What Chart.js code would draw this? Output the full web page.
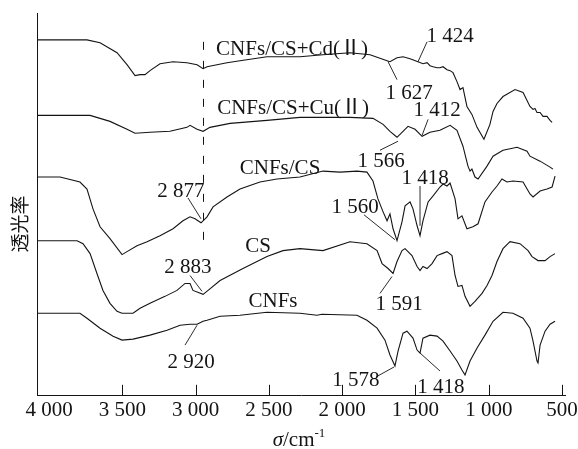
<!DOCTYPE html>
<html>
<head>
<meta charset="utf-8">
<script src="https://cdn.jsdelivr.net/npm/chart.js@4.4.1/dist/chart.umd.min.js"></script>
<style>
  html, body { margin: 0; padding: 0; background: #fff; }
</style>
</head>
<body>
<canvas id="c" width="578" height="449"></canvas>
<script>
// FTIR spectra, stacked. x = wavenumber (cm-1), y = transmittance (arbitrary, offset per curve)

const tickWave = [4000, 3500, 3000, 2500, 2000, 1500, 1000, 500];

// CNFs/CS+Cd(II)
const cdWave = [4082,3741,3652,3536,3468,3413,3379,3345,3311,3243,3154,3059,2990,2949,2922,2786,2697,2513,2288,2131,1947,1810,1694,1674,1626,1585,1537,1483,1449,1421,1401,1380,1353,1333,1312,1285,1264,1244,1217,1196,1176,1149,1115,1080,1033,992,971,944,903,821,766,719,698,685,671,650,630,603,582,568];
const cdT = [358,358,355,345,333,322,323,323,327,334,336,335,333,329,331,335,337,341,341,343,345,343,337,336,340,341,339,336,334,335,332,331,330,330,331,328,327,325,316,308,310,291,283,270,258,273,286,294,301,308,305,291,288,289,285,285,281,281,277,275];

// CNFs/CS+Cu(II)
const cuWave = [4082,3720,3584,3468,3413,3311,3175,3059,3038,2990,2949,2902,2765,2513,2288,2131,1947,1790,1721,1674,1626,1585,1551,1503,1455,1401,1333,1264,1217,1176,1142,1128,1115,1094,1073,1012,971,903,807,739,719,650,582,562];
const cuT = [282,282,276,268,264,265,266,270,272,268,266,270,274,277,280,280,280,279,273,266,260,266,271,268,261,265,267,272,267,251,231,226,228,220,218,231,241,247,250,246,241,236,230,228];

// CNFs/CS
const mixWave = [4082,3925,3789,3741,3700,3652,3584,3502,3468,3400,3331,3243,3154,3086,3038,3004,2963,2922,2881,2786,2697,2561,2445,2288,2131,2015,1899,1831,1790,1756,1721,1694,1674,1653,1626,1592,1571,1537,1517,1489,1469,1449,1414,1380,1333,1312,1285,1264,1230,1210,1183,1149,1108,1073,1026,978,944,910,876,835,766,719,698,650,603,568,548];
const mixT = [220,220,215,208,188,170,158,142,145,151,155,161,168,176,180,178,174,180,190,200,208,215,218,220,226,225,226,225,216,198,185,176,183,168,156,175,191,195,188,171,161,176,195,201,210,213,211,214,198,178,181,168,170,173,195,205,211,218,215,216,215,203,200,206,208,210,221];

// CS
const csWave = [4082,3809,3768,3720,3673,3632,3584,3536,3502,3427,3379,3311,3209,3127,3072,3038,3018,2949,2915,2833,2677,2513,2404,2288,2131,1947,1831,1762,1728,1687,1653,1626,1592,1571,1524,1489,1469,1449,1421,1387,1353,1319,1285,1251,1230,1210,1183,1162,1128,1094,1046,1012,978,944,903,855,787,732,705,664,616,582,548];
const csT = [156,156,153,143,123,106,93,85,83,83,88,93,100,106,113,113,106,102,106,116,128,140,146,148,146,155,153,146,133,128,123,135,146,148,141,130,126,130,128,133,141,143,145,141,121,110,111,100,90,95,103,111,121,135,148,155,153,146,140,136,136,140,143];

// CNFs
const cnfWave = [4082,3789,3741,3652,3563,3502,3427,3311,3195,3106,3038,2990,2949,2922,2833,2697,2513,2288,2172,2138,1899,1831,1762,1708,1674,1640,1619,1585,1558,1517,1489,1469,1449,1401,1353,1312,1264,1217,1183,1162,1128,1080,1026,971,903,835,766,719,698,671,664,650,616,582,548];
const cnfT = [83,83,78,68,60,56,57,61,66,71,72,72,75,76,80,81,84,83,81,82,81,76,68,56,41,30,45,63,65,58,46,43,58,61,60,55,45,35,26,21,35,48,61,75,84,83,78,68,55,35,33,51,65,72,75];

// text labels: [text, wavenumber, y]  (centre / baseline)
const labels = [
  ['CNFs/CS+Cd(Ⅱ)', 2342, 343],
  ['1 424', 1264, 356],
  ['1 627', 1544, 299],
  ['CNFs/CS+Cu(Ⅱ)', 2335, 283],
  ['1 412', 1353, 281],
  ['1 566', 1735, 230],
  ['CNFs/CS', 2424, 223],
  ['1 418', 1435, 213],
  ['1 560', 1912, 184],
  ['2 877', 3100, 200],
  ['2 883', 3052, 124],
  ['CS', 2574, 145],
  ['CNFs', 2472, 89],
  ['2 920', 3031, 28],
  ['1 591', 1612, 86],
  ['1 578', 1906, 10],
  ['1 418', 1326, 3]
];

// leader lines: [w1, y1, w2, y2]
const leaders = [
  [1421, 356, 1483, 336],
  [1687, 336, 1626, 318],
  [1414, 278, 1455, 262],
  [1742, 247, 1619, 256],
  [1469, 211, 1469, 171],
  [1851, 182, 1640, 157],
  [3052, 199, 2963, 178],
  [3038, 121, 2956, 105],
  [3072, 51, 2990, 71],
  [1742, 103, 1660, 120],
  [1769, 19, 1646, 29],
  [1333, 25, 1469, 43]
];

const dashWave = 2949;
const dashRange = [156, 356];

const serif = '"Liberation Serif", "Noto Sans CJK SC", serif';
const ink = '#141414';

const series = [
  [cdWave, cdT], [cuWave, cuT], [mixWave, mixT], [csWave, csT], [cnfWave, cnfT]
];

function fmtWave(v) {
  if (v < 1000) return String(v);
  return Math.floor(v / 1000) + ' ' + String(v % 1000).padStart(3, '0');
}

const inkPlugin = {
  id: 'ink',
  afterDraw(chart) {
    const { ctx, chartArea: a, scales: { x, y } } = chart;
    ctx.save();
    ctx.strokeStyle = ink;
    ctx.fillStyle = ink;
    ctx.lineWidth = 1;

    // tick marks point into the plot
    tickWave.forEach(v => {
      if (v === 4000) return;
      const px = Math.round(x.getPixelForValue(v)) + 0.5;
      ctx.beginPath();
      ctx.moveTo(px, a.bottom);
      ctx.lineTo(px, a.bottom - 11);
      ctx.stroke();
    });

    // dashed guide through the C-H band
    const dx = Math.round(x.getPixelForValue(dashWave)) + 0.5;
    ctx.setLineDash([8, 11]);
    ctx.beginPath();
    ctx.moveTo(dx, y.getPixelForValue(dashRange[1]));
    ctx.lineTo(dx, y.getPixelForValue(dashRange[0]));
    ctx.stroke();
    ctx.setLineDash([]);

    // leaders
    ctx.lineWidth = 0.9;
    leaders.forEach(([w1, t1, w2, t2]) => {
      ctx.beginPath();
      ctx.moveTo(x.getPixelForValue(w1), y.getPixelForValue(t1));
      ctx.lineTo(x.getPixelForValue(w2), y.getPixelForValue(t2));
      ctx.stroke();
    });

    // labels
    ctx.font = '21px ' + serif;
    ctx.textAlign = 'center';
    ctx.textBaseline = 'alphabetic';
    labels.forEach(([txt, w, t]) => {
      ctx.fillText(txt, x.getPixelForValue(w), y.getPixelForValue(t));
    });

    // y title
    ctx.save();
    ctx.translate(a.left - 17, 224);
    ctx.rotate(-Math.PI / 2);
    ctx.font = '19px "Noto Sans CJK SC"';
    ctx.textBaseline = 'middle';
    ctx.fillText('透光率', 0, 0);
    ctx.restore();

    // x title: σ/cm-1
    const base = 446;
    ctx.textAlign = 'left';
    ctx.font = 'italic 21px ' + serif;
    const w1 = ctx.measureText('σ').width;
    ctx.font = '21px ' + serif;
    const w2 = ctx.measureText('/cm').width;
    ctx.font = '13px ' + serif;
    const w3 = ctx.measureText('-1').width;
    let cx = (a.left + a.right) / 2 - (w1 + w2 + w3) / 2 - 2;
    ctx.font = 'italic 21px ' + serif;
    ctx.fillText('σ', cx, base);
    cx += w1;
    ctx.font = '21px ' + serif;
    ctx.fillText('/cm', cx, base);
    cx += w2;
    ctx.font = '13px ' + serif;
    ctx.fillText('-1', cx, base - 9);
    ctx.restore();
  }
};

new Chart(document.getElementById('c'), {
  type: 'line',
  data: {
    datasets: series.map(([ws, ts]) => ({
      data: ws.map((w, i) => ({ x: w, y: ts[i] })),
      borderColor: ink,
      borderWidth: 1.1,
      pointRadius: 0,
      tension: 0,
      fill: false
    }))
  },
  options: {
    responsive: false,
    animation: false,
    layout: { padding: { left: 37, right: 13, top: 13, bottom: 24 } },
    plugins: { legend: { display: false }, tooltip: { enabled: false } },
    scales: {
      x: {
        type: 'linear',
        reverse: true,
        min: 480,
        max: 4082,
        afterBuildTicks: s => { s.ticks = tickWave.map(v => ({ value: v })); },
        afterFit: s => { s.paddingLeft = 0; s.paddingRight = 0; },
        ticks: {
          autoSkip: false,
          maxRotation: 0,
          padding: 2,
          color: ink,
          font: { family: serif, size: 21 },
          callback: v => fmtWave(v)
        },
        grid: { display: false, drawTicks: false },
        border: { display: true, color: ink, width: 1 }
      },
      y: {
        min: 0,
        max: 385,
        ticks: { display: false },
        grid: { display: false, drawTicks: false },
        border: { display: true, color: ink, width: 1 }
      }
    }
  },
  plugins: [inkPlugin]
});
</script>
</body>
</html>
